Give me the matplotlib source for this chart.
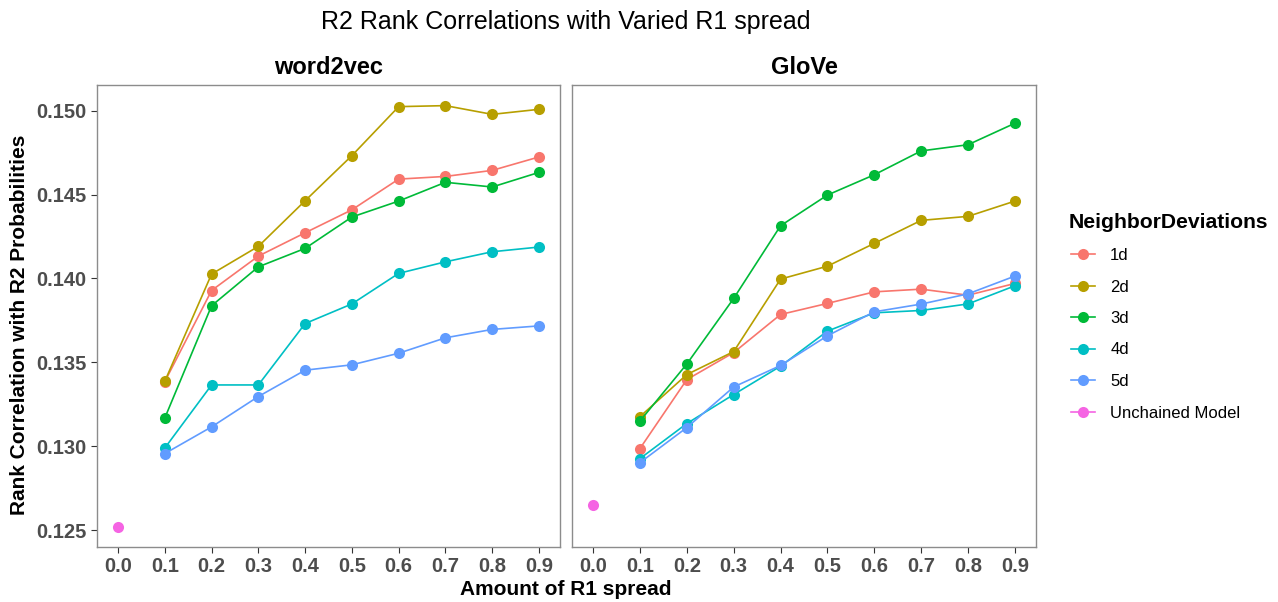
import matplotlib
matplotlib.use("Agg")
import matplotlib.pyplot as plt
from matplotlib.lines import Line2D

plt.rcParams["font.family"] = ["Liberation Sans", "DejaVu Sans"]

# ─── Data ──────────────────────────────────────────────────────────────────────

spread = [0.1, 0.2, 0.3, 0.4, 0.5, 0.6, 0.7, 0.8, 0.9]
levels = ["1d", "2d", "3d", "4d", "5d"]
colors = ["#F8766D", "#B79F00", "#00BA38", "#00BFC4", "#619CFF", "#F564E3"]

w2v_1d = [0.13385, 0.13928, 0.14133, 0.14272, 0.14409, 0.14592, 0.14608, 0.14644, 0.14724]
w2v_2d = [0.13387, 0.14026, 0.14191, 0.14463, 0.14732, 0.15024, 0.15030, 0.14978, 0.15008]
w2v_3d = [0.13168, 0.13837, 0.14069, 0.14179, 0.14366, 0.14461, 0.14573, 0.14545, 0.14632]
w2v_4d = [0.12989, 0.13365, 0.13365, 0.13731, 0.13848, 0.14030, 0.14099, 0.14159, 0.14187]
w2v_5d = [0.12956, 0.13115, 0.13296, 0.13453, 0.13485, 0.13554, 0.13646, 0.13696, 0.13717]
w2v_unchained = 0.12520

glove_1d = [0.12986, 0.13397, 0.13558, 0.13785, 0.13851, 0.13920, 0.13936, 0.13900, 0.13970]
glove_2d = [0.13176, 0.13427, 0.13564, 0.13996, 0.14073, 0.14209, 0.14346, 0.14370, 0.14461]
glove_3d = [0.13150, 0.13490, 0.13881, 0.14314, 0.14497, 0.14618, 0.14760, 0.14797, 0.14925]
glove_4d = [0.12926, 0.13135, 0.13308, 0.13477, 0.13686, 0.13795, 0.13809, 0.13848, 0.13956]
glove_5d = [0.12902, 0.13111, 0.13353, 0.13481, 0.13658, 0.13801, 0.13847, 0.13908, 0.14014]
glove_unchained = 0.12649

panels = [
    ("word2vec", [w2v_1d, w2v_2d, w2v_3d, w2v_4d, w2v_5d], w2v_unchained),
    ("GloVe", [glove_1d, glove_2d, glove_3d, glove_4d, glove_5d], glove_unchained),
]

xticks = [0.0, 0.1, 0.2, 0.3, 0.4, 0.5, 0.6, 0.7, 0.8, 0.9]
yticks = [0.125, 0.130, 0.135, 0.140, 0.145, 0.150]

# ─── Figure ────────────────────────────────────────────────────────────────────

W, H = 1278, 602
fig = plt.figure(figsize=(W / 100, H / 100), dpi=100)
fig.patch.set_facecolor("white")


def px_axes(x0, y0, x1, y1):
    return fig.add_axes([x0 / W, 1 - y1 / H, (x1 - x0) / W, (y1 - y0) / H])


boxes = [(97, 85, 560, 547), (572, 85, 1036, 547)]
tick_col = "#4D4D4D"

for i, ((name, series, unchained), box) in enumerate(zip(panels, boxes)):
    ax = px_axes(*box)
    for vals, col in zip(series, colors):
        ax.plot(spread, vals, color=col, lw=1.2, marker="o", ms=8,
                markeredgewidth=0, zorder=3)
    ax.plot([0.0], [unchained], color=colors[5], marker="o", ms=8,
            markeredgewidth=0, ls="none", zorder=3)

    ax.set_xlim(-0.045, 0.945)
    ax.set_ylim(0.12399, 0.15153)
    ax.set_xticks(xticks)
    ax.set_xticklabels([f"{t:.1f}" for t in xticks])
    ax.set_yticks(yticks)
    ax.tick_params(labelsize=14.5, colors="#333333", labelcolor=tick_col,
                   length=4, width=0.8)
    if i == 0:
        ax.set_yticklabels([f"{t:.3f}" for t in yticks])
    else:
        ax.set_yticklabels([])
        ax.tick_params(axis="y", length=0)
    for lab in ax.get_xticklabels() + ax.get_yticklabels():
        lab.set_fontweight("bold")
    for s in ax.spines.values():
        s.set_color("#8C8C8C")
        s.set_linewidth(1.0)
    # strip label, no background
    fig.text((box[0] + box[2]) / 2 / W, 1 - 74 / H, name, ha="center",
             va="baseline", fontsize=17, fontweight="bold")

# Titles and axis labels
fig.text(566 / W, 1 - 29.5 / H, "R2 Rank Correlations with Varied R1 spread",
         ha="center", va="baseline", fontsize=18)
fig.text(566 / W, 1 - 595 / H, "Amount of R1 spread", ha="center",
         va="baseline", fontsize=15, fontweight="bold")
fig.text(20 / W, 1 - 325 / H, "Rank Correlation with R2 Probabilities",
         ha="center", va="center", rotation=90, fontsize=15,
         fontweight="bold")

# Legend
fig.text(1069 / W, 1 - 228 / H, "NeighborDeviations", ha="left",
         va="baseline", fontsize=15.2, fontweight="bold")
handles = [Line2D([0], [0], color=c, lw=1.2, marker="o", ms=8,
                  markeredgewidth=0) for c in colors]
labels = levels + ["Unchained Model"]
fig.legend(handles, labels, loc="upper left",
           bbox_to_anchor=(1071 / W, 1 - 248 / H), frameon=False,
           fontsize=12, handlelength=1.45, handletextpad=0.9,
           labelspacing=0.99, borderaxespad=0, borderpad=0)

fig.savefig("out.png", dpi=100, facecolor="white")
